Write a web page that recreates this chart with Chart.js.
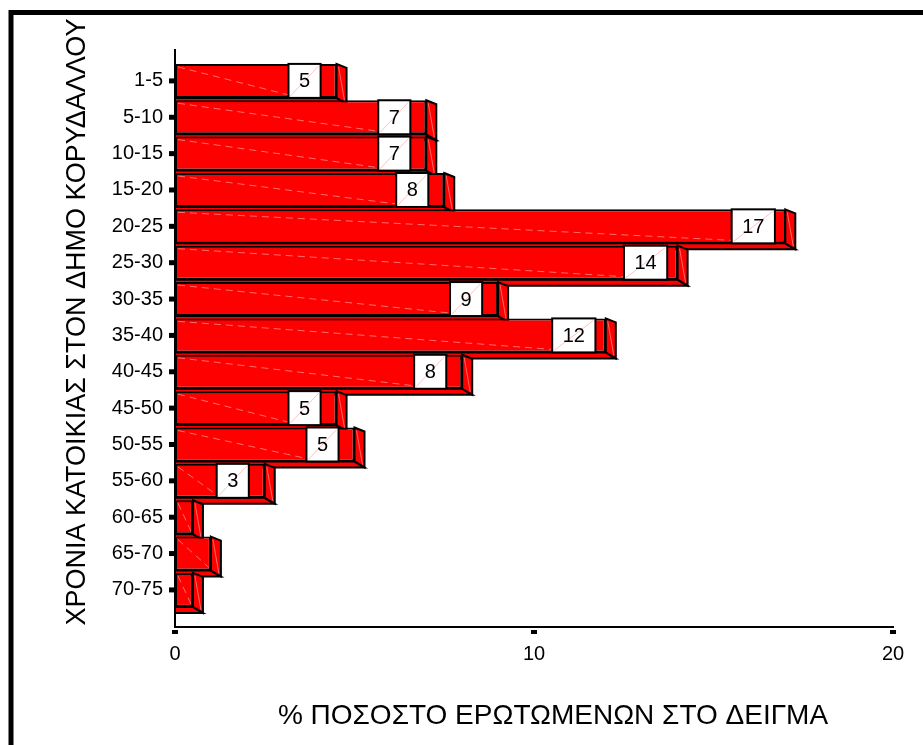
<!DOCTYPE html>
<html>
<head>
<meta charset="utf-8">
<script src="https://cdn.jsdelivr.net/npm/chart.js@4/dist/chart.umd.min.js"></script>
<style>
  html, body { margin: 0; padding: 0; background: #fff; }
  canvas { display: block; }
</style>
</head>
<body>
<canvas id="chart" width="923" height="745"></canvas>
<script>
// Years of residence (bands) and share of respondents (%)
const categories = ['1-5', '5-10', '10-15', '15-20', '20-25', '25-30', '30-35', '35-40',
                    '40-45', '45-50', '50-55', '55-60', '60-65', '65-70', '70-75'];
const percentages = [4.5, 7, 7, 7.5, 17, 14, 9, 12, 8, 4.5, 5, 2.5, 0.5, 1, 0.5];
const xTickValues = [0, 10, 20];
const xTitle = '% ΠΟΣΟΣΤΟ ΕΡΩΤΩΜΕΝΩΝ ΣΤΟ ΔΕΙΓΜΑ';
const yTitle = 'ΧΡΟΝΙΑ ΚΑΤΟΙΚΙΑΣ ΣΤΟΝ ΔΗΜΟ ΚΟΡΥΔΑΛΛΟΥ';

const FONT = "'Liberation Sans', Arial, sans-serif";
const RED = '#ff0000';
const DEPTH_X = 10, DEPTH_TOP = 4, DEPTH_BOTTOM = 6;

function barGeometry(bar) {
  const p = bar.getProps(['x', 'y', 'base', 'height'], true);
  return { x0: p.base, x1: p.x, top: p.y - p.height / 2, bottom: p.y + p.height / 2, cy: p.y };
}

// Outer frame around the figure
const framePlugin = {
  id: 'frame',
  beforeDraw(chart) {
    const ctx = chart.ctx;
    ctx.save();
    ctx.fillStyle = '#fff';
    ctx.fillRect(0, 0, chart.width, chart.height);
    ctx.strokeStyle = '#000';
    ctx.lineWidth = 5;
    ctx.strokeRect(11, 12.5, 2000, 2000);
    ctx.restore();
  }
};

// Side and bottom faces that give each bar its depth
const extrudePlugin = {
  id: 'extrude',
  beforeDatasetsDraw(chart) {
    const ctx = chart.ctx;
    const meta = chart.getDatasetMeta(0);
    ctx.save();
    ctx.strokeStyle = '#000';
    ctx.lineWidth = 2;
    ctx.lineJoin = 'miter';
    meta.data.forEach(bar => {
      const g = barGeometry(bar);
      ctx.fillStyle = RED;
      // bottom face
      ctx.beginPath();
      ctx.moveTo(g.x0, g.bottom);
      ctx.lineTo(g.x1, g.bottom);
      ctx.lineTo(g.x1 + DEPTH_X, g.bottom + DEPTH_BOTTOM);
      ctx.lineTo(g.x0, g.bottom + DEPTH_BOTTOM);
      ctx.closePath();
      ctx.fill();
      ctx.stroke();
      // right face
      ctx.beginPath();
      ctx.moveTo(g.x1, g.top);
      ctx.lineTo(g.x1 + DEPTH_X, g.top + DEPTH_TOP);
      ctx.lineTo(g.x1 + DEPTH_X, g.bottom + DEPTH_BOTTOM);
      ctx.lineTo(g.x1, g.bottom);
      ctx.closePath();
      ctx.fill();
      ctx.stroke();
      // faint seam on the right face
      ctx.save();
      ctx.strokeStyle = 'rgba(255,190,190,0.55)';
      ctx.lineWidth = 1;
      ctx.beginPath();
      ctx.moveTo(g.x1 + 2, g.top + 3);
      ctx.lineTo(g.x1 + DEPTH_X - 2, g.bottom + DEPTH_BOTTOM - 3);
      ctx.stroke();
      ctx.restore();
    });
    ctx.restore();
  }
};

// Value boxes near the end of each bar
const valueBoxPlugin = {
  id: 'valueBoxes',
  afterDatasetsDraw(chart) {
    const ctx = chart.ctx;
    const meta = chart.getDatasetMeta(0);
    ctx.save();
    ctx.font = '20px ' + FONT;
    meta.data.forEach((bar, i) => {
      const g = barGeometry(bar);
      const value = percentages[i];
      const showBox = value >= 2;
      const text = String(Math.round(value));
      const tw = ctx.measureText(text).width;
      const w = tw + 21;
      const cx = g.x1 - 32;
      const bx = cx - w / 2;
      const streakEnd = showBox ? bx : g.x1 - 2;
      // light streak across the front face
      ctx.save();
      ctx.strokeStyle = 'rgba(255,200,200,0.55)';
      ctx.lineWidth = 1;
      ctx.setLineDash([7, 5]);
      ctx.beginPath();
      ctx.moveTo(g.x0 + 3, g.top + 3);
      ctx.lineTo(streakEnd, g.bottom - 3);
      ctx.stroke();
      ctx.restore();
      if (!showBox) return;
      ctx.fillStyle = '#fff';
      ctx.fillRect(bx, g.top, w, g.bottom - g.top);
      ctx.strokeStyle = 'rgba(255,120,120,0.45)';
      ctx.lineWidth = 1;
      ctx.beginPath();
      ctx.moveTo(bx + 2, g.bottom - 2);
      ctx.lineTo(bx + w - 2, g.top + 2);
      ctx.stroke();
      ctx.strokeStyle = '#000';
      ctx.lineWidth = 2;
      ctx.strokeRect(bx, g.top, w, g.bottom - g.top);
      ctx.fillStyle = '#000';
      ctx.textAlign = 'center';
      ctx.textBaseline = 'middle';
      ctx.fillText(text, cx, g.cy + 1);
    });
    ctx.restore();
  }
};

// Square tick marks and the two axis titles
const axisDecorPlugin = {
  id: 'axisDecor',
  afterDraw(chart) {
    const ctx = chart.ctx;
    const xs = chart.scales.x, ys = chart.scales.y;
    ctx.save();
    ctx.fillStyle = '#000';
    categories.forEach((_, i) => {
      const py = ys.getPixelForValue(i);
      ctx.fillRect(xs.left - 6, py - 2.5, 5, 5);
    });
    xTickValues.forEach(v => {
      const px = xs.getPixelForValue(v);
      ctx.fillRect(px - 3, ys.bottom + 3, 6, 4);
    });
    ctx.font = '28px ' + FONT;
    ctx.textAlign = 'center';
    ctx.textBaseline = 'middle';
    ctx.fillText(xTitle, 553, 716);
    ctx.translate(78, 322);
    ctx.rotate(-Math.PI / 2);
    ctx.font = '27px ' + FONT;
    ctx.fillText(yTitle, 0, 0);
    ctx.restore();
  }
};

new Chart(document.getElementById('chart'), {
  type: 'bar',
  data: {
    datasets: [{
      data: percentages.map((v, i) => ({ x: v, y: i })),
      backgroundColor: RED,
      borderColor: '#000',
      borderWidth: 2,
      borderSkipped: false,
      barPercentage: 0.935,
      categoryPercentage: 1
    }]
  },
  options: {
    indexAxis: 'y',
    responsive: false,
    animation: false,
    devicePixelRatio: 1,
    layout: { padding: { top: 50, right: 30, left: 0, bottom: 0 } },
    plugins: { legend: { display: false }, tooltip: { enabled: false } },
    scales: {
      x: {
        type: 'linear',
        min: 0,
        max: 20,
        afterBuildTicks: s => { s.ticks = xTickValues.map(v => ({ value: v })); },
        afterFit: s => { s.height = 118; },
        grid: { display: false, drawTicks: false },
        border: { display: true, color: '#000', width: 2 },
        ticks: { color: '#000', font: { family: FONT, size: 20 }, padding: 15, maxRotation: 0, autoSkip: false }
      },
      y: {
        type: 'linear',
        reverse: true,
        offset: false,
        min: -0.85,
        max: 15.02,
        afterBuildTicks: s => { s.ticks = categories.map((_, i) => ({ value: i })); },
        afterFit: s => { s.width = 175; },
        grid: { display: false, drawTicks: false, offset: false },
        border: { display: true, color: '#000', width: 2 },
        ticks: {
          color: '#000',
          font: { family: FONT, size: 20 },
          padding: 12,
          autoSkip: false,
          callback: v => categories[v]
        }
      }
    }
  },
  plugins: [framePlugin, extrudePlugin, valueBoxPlugin, axisDecorPlugin]
});
</script>
</body>
</html>
